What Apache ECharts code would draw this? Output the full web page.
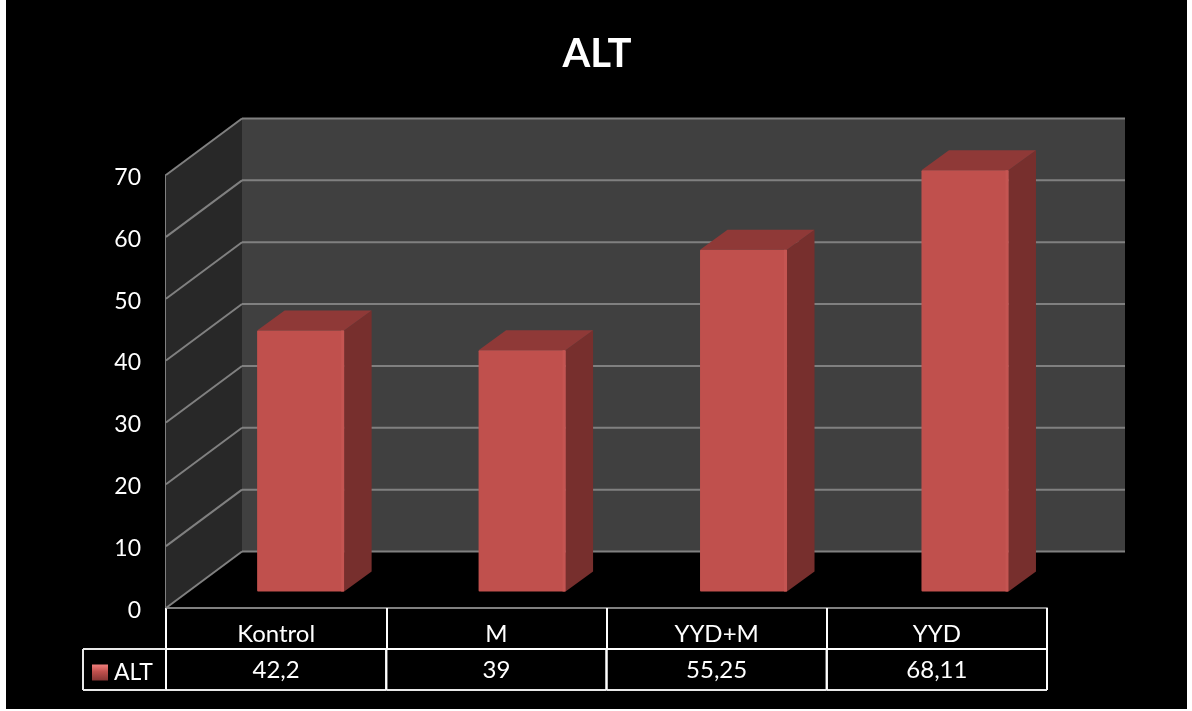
<!DOCTYPE html>
<html><head><meta charset="utf-8">
<style>html,body{margin:0;padding:0;background:#fff}#c{width:1192px;height:711px}</style>
<script src="https://cdn.jsdelivr.net/npm/echarts@6/dist/echarts.min.js"></script>
</head><body><div id="c"></div>
<script>
const categories = ['Kontrol', 'M', 'YYD+M', 'YYD'];
const altValues = [42.2, 39, 55.25, 68.11];
const altLabels = ['42,2', '39', '55,25', '68,11'];
const yTicks = [0, 10, 20, 30, 40, 50, 60, 70];
const seriesName = 'ALT';

const FONT = 'Lato, "Open Sans", sans-serif';
const WALL = { dx: 76, dy: -56.5, right: 78 };
const BAR = { dx: 24.5, dxStep: 1.2, dy: -16.5, half: 43.5, sideX: 27.5, sideY: -20 };
const GRID_LINE = '#808080';

const chart = echarts.init(document.getElementById('c'), null, { renderer: 'canvas' });

function line(x1, y1, x2, y2, color, w) {
  return { type: 'line', silent: true, shape: { x1, y1, x2, y2 }, style: { stroke: color, lineWidth: w } };
}
function poly(points, fill) {
  return { type: 'polygon', silent: true, shape: { points }, style: { fill } };
}

function renderWalls(params, api) {
  const x0 = params.coordSys.x, xEnd = x0 + params.coordSys.width;
  const bot = api.coord([0, 0])[1], top = api.coord([0, 70])[1];
  const bx = x0 + WALL.dx, rx = xEnd + WALL.right, d = WALL.dy;
  return { type: 'group', children: [
    poly([[bx, top + d], [rx, top + d], [rx, bot + d], [bx, bot + d]], '#404040'),
    poly([[x0, top], [bx, top + d], [bx, bot + d], [x0, bot]], '#282828')
  ]};
}
function renderGrid(params, api) {
  const x0 = params.coordSys.x, xEnd = x0 + params.coordSys.width;
  const y = api.coord([0, api.value(0)])[1];
  const bx = x0 + WALL.dx, rx = xEnd + WALL.right, d = WALL.dy;
  return { type: 'group', children: [
    line(x0, y, bx, y + d, GRID_LINE, 2),
    line(bx, y + d, rx, y + d, GRID_LINE, 2)
  ]};
}
function renderBar(params, api) {
  const i = api.value(0), v = api.value(1);
  const c = api.coord([i, 0])[0] + BAR.dx + BAR.dxStep * i;
  const y0 = api.coord([i, 0])[1] + BAR.dy;
  const yv = api.coord([i, v])[1] + BAR.dy;
  const l = c - BAR.half, r = c + BAR.half, sx = BAR.sideX, sy = BAR.sideY;
  return { type: 'group', children: [
    poly([[r, yv], [r + sx, yv + sy], [r + sx, y0 + sy], [r, y0]], '#772f2d'),
    poly([[l, yv], [l + sx, yv + sy], [r + sx, yv + sy], [r, yv]], '#8f3937'),
    { type: 'rect', silent: true, shape: { x: l, y: yv, width: r - l, height: y0 - yv, r: 1 }, style: { fill: '#c0504d' } },
    { type: 'rect', silent: true, shape: { x: r - 3, y: yv, width: 3, height: y0 - yv }, style: { fill: '#c55552' } }
  ]};
}
function renderTable(params, api) {
  const i = api.value(0);
  const p = api.coord([i, 0]);
  const band = api.size([1, 0])[0];
  const l = p[0] - band / 2, r = p[0] + band / 2;
  const rowTop = p[1] + 41, rowBot = p[1] + 82;
  const kids = [
    line(l, rowTop, r, rowTop, '#ffffff', 2),
    line(l, rowBot, r, rowBot, '#e8e8e8', 2),
    line(l, rowTop, l, rowBot, '#ffffff', 2),
    line(r, rowTop, r, rowBot, '#ffffff', 2),
    { type: 'text', silent: true, style: {
        x: p[0], y: (rowTop + rowBot) / 2 + 1, text: altLabels[i], fill: '#fff',
        font: '24px ' + FONT, textAlign: 'center', textVerticalAlign: 'middle' } }
  ];
  if (i === 0) {
    const hx = l - 83;
    kids.push(line(hx, rowTop, l, rowTop, '#e8e8e8', 2));
    kids.push(line(hx, rowBot, l, rowBot, '#e8e8e8', 2));
    kids.push(line(hx, rowTop, hx, rowBot, '#e8e8e8', 2));
  }
  return { type: 'group', children: kids };
}

chart.setOption({
  animation: false,
  backgroundColor: '#ffffff',
  graphic: [{ type: 'rect', z: -100, silent: true, shape: { x: 6, y: 0, width: 1181, height: 709 }, style: { fill: '#000' } }],
  title: { text: seriesName, left: 597, top: 34, padding: 0, textAlign: 'center',
    textStyle: { color: '#fff', fontFamily: FONT, fontWeight: 'bold', fontSize: 40 } },
  legend: { show: true, left: 92, top: 661, padding: 0, itemWidth: 16, itemHeight: 16, itemGap: 4, selectedMode: false,
    data: [{ name: seriesName, icon: 'rect', itemStyle: { color: new echarts.graphic.LinearGradient(0, 0, 0, 1, [
      { offset: 0, color: '#f07f7c' }, { offset: 0.45, color: '#c0504d' }, { offset: 1, color: '#853533' }]) } }],
    textStyle: { color: '#fff', fontFamily: FONT, fontSize: 23, padding: [0, 0, 0, 1], verticalAlign: 'top', lineHeight: 4 } },
  grid: { left: 166, top: 175, width: 881, height: 433 },
  xAxis: { type: 'category', data: categories, boundaryGap: true,
    axisLine: { lineStyle: { color: GRID_LINE, width: 2 } },
    axisTick: { show: true, alignWithLabel: false, length: 41, lineStyle: { color: '#ffffff', width: 2 } },
    axisLabel: { color: '#fff', fontFamily: FONT, fontSize: 24, margin: 14 } },
  yAxis: { type: 'value', min: 0, max: 70, interval: 10,
    axisLine: { show: true, lineStyle: { color: GRID_LINE, width: 2 } },
    axisTick: { show: false }, splitLine: { show: false },
    axisLabel: { color: '#fff', fontFamily: FONT, fontSize: 23, margin: 25, verticalAlign: 'top', lineHeight: 5 } },
  series: [
    { type: 'custom', name: '_walls', z: 1, silent: true, clip: false, renderItem: renderWalls, data: [[0]], encode: { x: -1, y: -1 } },
    { type: 'custom', name: '_grid', z: 2, silent: true, clip: false, renderItem: renderGrid, data: yTicks.map(t => [t]), encode: { x: -1, y: 0 } },
    { type: 'custom', name: seriesName, z: 3, silent: true, clip: false, renderItem: renderBar,
      itemStyle: { color: '#c0504d' }, data: altValues.map((v, i) => [i, v]), encode: { x: 0, y: 1 } },
    { type: 'custom', name: '_table', z: 4, silent: true, clip: false, renderItem: renderTable,
      data: categories.map((c, i) => [i]), encode: { x: 0, y: -1 } }
  ]
});
</script></body></html>
